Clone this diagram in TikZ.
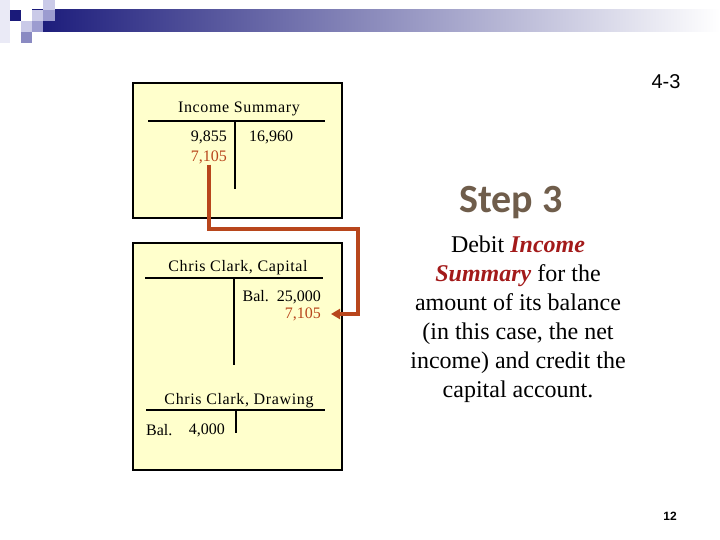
\documentclass[tikz,border=0pt]{standalone}
\usepackage{fontspec}
\setmainfont{Liberation Serif}
\newfontfamily\acct[LetterSpace=4]{Liberation Serif}
\newfontfamily\stepfont{Carlito}
\newfontfamily\slidefont{Liberation Sans}
\usetikzlibrary{positioning,arrows.meta}
\definecolor{navy}{HTML}{1A1A7A}
\definecolor{lav}{HTML}{CACAE8}
\definecolor{lavmid}{HTML}{9C9CD0}
\definecolor{lavpale}{HTML}{EAEAF6}
\definecolor{lavdk}{HTML}{8A8AC2}
\definecolor{pad}{HTML}{FFFFCC}
\definecolor{rust}{HTML}{B8461C}
\definecolor{wine}{HTML}{A31A1A}
\definecolor{stone}{HTML}{6F5D4B}
\tikzset{
  >={Triangle[length=9pt,width=10pt]},
  ledger/.style={draw=black, line width=1.8pt, fill=pad},
  acctname/.style={font=\acct\fontsize{16}{18}\selectfont, inner sep=1pt},
  amt/.style={font=\fontsize{16}{18}\selectfont, inner sep=1pt},
  netamt/.style={amt, text=rust},
  tline/.style={line width=2pt},
  tee/.style={line width=1.5pt},
  closing/.style={->, draw=rust, line width=3.4pt},
  body/.style={font=\fontsize{24}{29}\selectfont, align=center},
}

\begin{document}
\begin{tikzpicture}[x=1pt,y=-1pt]
  \useasboundingbox (0,0) rectangle (720,540);
  \shade[left color=navy, right color=white] (32,10) rectangle (720,32);
  \fill[lavpale] (0,0) rectangle (10,43);
  \fill[navy] (10,10) rectangle (21,21);
  \fill[lav] (43,0) rectangle (55,10);
  \fill[lav] (32,10) rectangle (43,21);
  \fill[lavmid] (43,10) rectangle (55,21);
  \fill[lav] (21,21) rectangle (32,32);
  \fill[lavmid] (32,21) rectangle (43,32);
  \fill[lavdk] (21,32) rectangle (32,43);

  \node[font=\slidefont\fontsize{20}{22}\selectfont](pg) at (666,82){4-3};
  \node[font=\slidefont\bfseries\fontsize{12}{14}\selectfont](num) at (670,516){12};

  \draw[ledger] (133,83) rectangle (342,218);
  \node[acctname](is) at (239,109){Income Summary};
  \node[amt,anchor=east](isdr) at (228,137){9,855};
  \node[netamt,anchor=east](isnet) at (228,157){7,105};
  \node[amt,anchor=west](iscr) at (248,137){16,960};
  \draw[tline](148,121)--(325,121);
  \draw[tee](235,121)--(235,189);

  \draw[ledger] (133,243) rectangle (342,470);
  \node[acctname](cap) at (238,268){Chris Clark, Capital};
  \node[amt,anchor=east](capbal) at (322,297){Bal.~~25,000};
  \node[netamt,anchor=east](capnet) at (322,314){7,105};
  \draw[tline](145,278)--(323,278);
  \draw[tee](234,278)--(234,365);
  \node[acctname](drw) at (239,401){Chris Clark, Drawing};
  \node[amt,anchor=west](drwlbl) at (145,430){Bal.};
  \node[amt,anchor=east](drwbal) at (226,430){4,000};
  \draw[tline](146,410)--(325,410);
  \draw[tee](236,410)--(236,433);

  \coordinate (bend) at (358,229);
  \draw[closing](isnet.south) |- (bend) |- ([xshift=9pt]capnet.east);

  \node[font=\stepfont\bfseries\fontsize{40}{44}\selectfont,text=stone](step) at (511,203){Step 3};
  \node[body](expl) at (518,319){Debit \textcolor{wine}{\bfseries\itshape Income}\\
    \textcolor{wine}{\bfseries\itshape Summary} for the\\ amount of its balance\\
    (in this case, the net\\ income) and credit the\\ capital account.};
\end{tikzpicture}
\end{document}
